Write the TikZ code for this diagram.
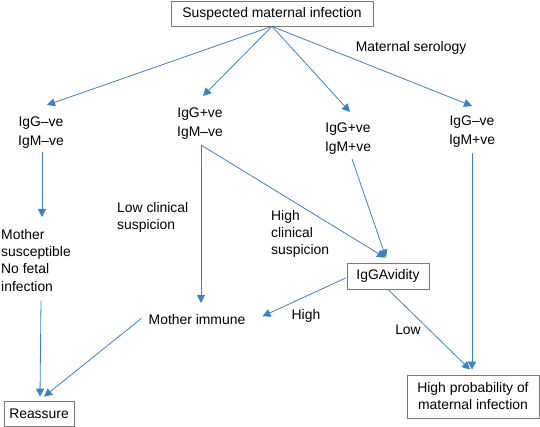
\documentclass[tikz,border=0pt]{standalone}
\usepackage{fontspec}
\setmainfont{Liberation Sans}
\usetikzlibrary{arrows.meta,calc}
\definecolor{arrblue}{RGB}{60,130,195}
\definecolor{boxgray}{RGB}{120,120,120}
\begin{document}
\begin{tikzpicture}[x=1pt,y=-1pt,
 every node/.style={font=\fontsize{13.9}{17.3}\selectfont, inner sep=0pt, text=black},
 lbl/.style={align=center},
 lbll/.style={align=left},
 ig/.style={align=center, font=\fontsize{13.9}{19}\selectfont},
 boxed/.style={draw=boxgray, line width=0.8pt, align=center},
 arr/.style={draw=arrblue, line width=0.8pt, -{Triangle[length=8pt,width=8pt]}}]
\useasboundingbox (0,0) rectangle (540,427);
% nodes
\node[boxed, minimum width=202pt, minimum height=25pt] (top) at (272,13.5) {Suspected maternal infection};
\node[lbl] (ser) at (411,48) {Maternal serology};
\node[ig, anchor=north] (n1) at (41,117) {IgG--ve\\IgM--ve};
\node[ig, anchor=north] (n2) at (200,108) {IgG+ve\\IgM--ve};
\node[ig, anchor=north] (n3) at (348,123) {IgG+ve\\IgM+ve};
\node[ig, anchor=north] (n4) at (472,116) {IgG--ve\\IgM+ve};
\node[lbll, anchor=north west] (sus) at (1,229) {Mother\\susceptible\\No fetal\\infection};
\node[lbll, anchor=north west] (low) at (117,202) {Low clinical\\suspicion};
\node[lbll, anchor=north west] (high) at (271,210) {High\\clinical\\suspicion};
\node[lbl, anchor=north] (immune) at (197,314) {Mother immune};
\node[boxed, minimum width=82pt, minimum height=26pt] (avid) at (388,276) {IgGAvidity};
\node[lbl] (highlbl) at (306,316) {High};
\node[lbl] (lowlbl) at (408,330) {Low};
\node[boxed, minimum width=70pt, minimum height=25pt] (reas) at (39,414) {Reassure};
\node[boxed, minimum width=132pt, minimum height=43pt, font=\fontsize{13.9}{17}\selectfont] (prob) at (473,396.5) {High probability of\\maternal infection};
% connectors
\draw[arr] (top.south) -- ($(n1.north)+(6,-12)$);
\draw[arr] (top.south) -- ($(n2.north)+(3,-12)$);
\draw[arr] (top.south) -- ($(n3.north)+(2,-11)$);
\draw[arr] (top.south) -- ($(n4.north)+(0,-10)$);
\draw[arr] ($(n1.south)+(1,3)$) -- ($(sus.north -| n1.south)+(1,-12)$);
\draw[arr] ($(sus.south west)+(40,9)$) -- ($(reas.north)+(1,-4.5)$);
\draw[arr] ($(immune.west)+(-7,-1)$) -- ($(reas.north)+(5,-4.5)$);
\draw[arr] ($(n2.south)+(1,5)$) -- ($(immune.north)+(4,-11)$);
\draw[arr] ($(n2.south)+(1,5)$) -- ($(avid.north)+(-3,-5)$);
\draw[arr] ($(n3.south)+(4,4)$) -- ($(avid.north)+(-2,-5)$);
\draw[arr] ($(avid.west)+(-1,2)$) -- ($(immune.east)+(17,-3)$);
\draw[arr] (avid.south) -- ($(prob.north)+(-3,-5)$);
\draw[arr] ($(n4.south)+(0,5)$) -- ($(prob.north)+(-1,-5)$);
\end{tikzpicture}
\end{document}
